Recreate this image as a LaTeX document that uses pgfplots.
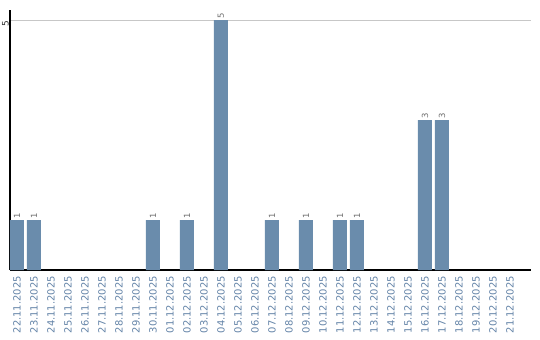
\documentclass[border=0pt]{standalone}
\usepackage{fontspec}
\setmainfont{DejaVu Sans}
\usepackage{pgfplots}
\pgfplotsset{compat=1.18}
\definecolor{barblue}{RGB}{106,140,172}
\definecolor{ticklab}{RGB}{100,132,168}
\definecolor{vallab}{RGB}{110,110,110}
\begin{document}
\begin{tikzpicture}
\useasboundingbox (0,0) rectangle (540bp,340bp);
\begin{axis}[
  at={(10bp,70bp)}, anchor=south west,
  scale only axis, width=521bp, height=260bp,
  xmin=-0.41, xmax=30.24, ymin=0, ymax=5.2,
  axis x line*=bottom, axis y line*=left,
  axis line style={black, line width=1.2pt, -},
  xtick={0,...,29},
  xticklabels={22.11.2025,23.11.2025,24.11.2025,25.11.2025,26.11.2025,27.11.2025,28.11.2025,29.11.2025,30.11.2025,01.12.2025,02.12.2025,03.12.2025,04.12.2025,05.12.2025,06.12.2025,07.12.2025,08.12.2025,09.12.2025,10.12.2025,11.12.2025,12.12.2025,13.12.2025,14.12.2025,15.12.2025,16.12.2025,17.12.2025,18.12.2025,19.12.2025,20.12.2025,21.12.2025},
  xticklabel style={rotate=90, anchor=east, font=\fontsize{10}{11}\selectfont, text=ticklab, inner sep=0pt},
  major tick length=0pt,
  xtick pos=bottom,
  ytick={5},
  yticklabel style={rotate=90, anchor=south east, font=\fontsize{9}{10}\selectfont, text=black!80, inner sep=1pt},
  ymajorgrids, grid style={line width=0.8pt, black!22},
  /pgf/number format/assume math mode=true,
  xticklabel shift=6bp,
  yticklabel shift=0bp,
  ybar, bar width=14bp,
  nodes near coords,
  every node near coord/.append style={rotate=90, anchor=west, font=\fontsize{8.5}{9}\selectfont, text=vallab, inner sep=1pt},
  clip=false,
]
\addplot[fill=barblue, draw=none] coordinates {
  (0,1) (1,1) (8,1) (10,1) (12,5) (15,1) (17,1) (19,1) (20,1) (24,3) (25,3)
};
\end{axis}
\end{tikzpicture}
\end{document}
